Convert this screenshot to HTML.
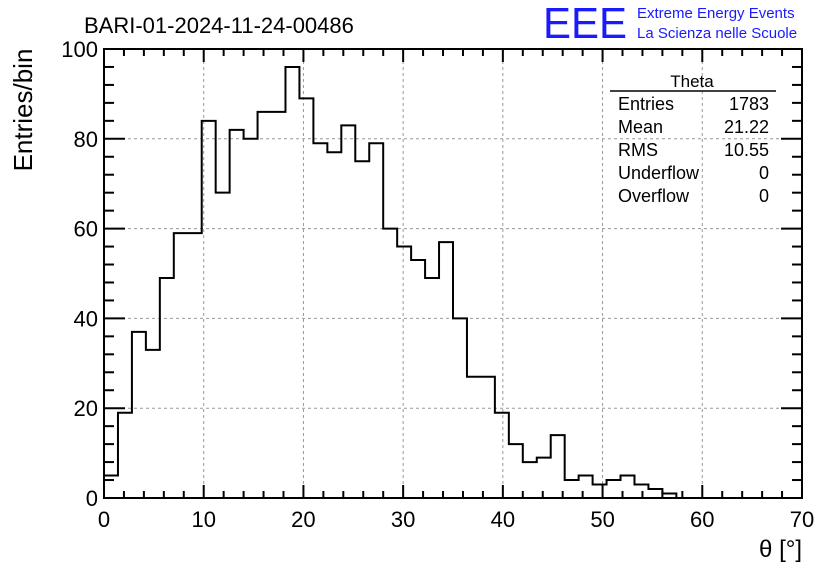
<!DOCTYPE html>
<html><head><meta charset="utf-8"><style>
html,body{margin:0;padding:0;background:#fff;}
svg{display:block;font-family:"Liberation Sans",sans-serif;}
</style></head><body>
<svg id="chart" width="836" height="572" viewBox="0 0 836 572">
<text x="84" y="33" font-size="22">BARI-01-2024-11-24-00486</text>
<text x="543" y="38" font-size="44" fill="#1a1aff" textLength="84" lengthAdjust="spacingAndGlyphs">EEE</text>
<text x="637" y="18" font-size="15" fill="#1a1aff">Extreme Energy Events</text>
<text x="637" y="38" font-size="15" fill="#1a1aff">La Scienza nelle Scuole</text>
<g id="grid"></g>
<path id="hist" fill="none" stroke="#000" stroke-width="2"></path>
<rect x="104" y="49" width="698" height="449" fill="none" stroke="#000" stroke-width="2"/>
<g id="ticks"></g>
<text x="32" y="110" font-size="26" transform="rotate(-90 32 110)" text-anchor="middle" dx="0"><tspan x="32" dy="0" transform="">Entries/bin</tspan></text>
<text x="802" y="557" font-size="24" text-anchor="end">θ [°]</text>
<g font-size="18">
<text x="692" y="87" text-anchor="middle" font-size="17">Theta</text>
<line x1="610" y1="91" x2="776" y2="91" stroke="#000" stroke-width="1.5"/>
<text x="618" y="110">Entries</text><text x="769" y="110" text-anchor="end">1783</text>
<text x="618" y="133">Mean</text><text x="769" y="133" text-anchor="end">21.22</text>
<text x="618" y="156">RMS</text><text x="769" y="156" text-anchor="end">10.55</text>
<text x="618" y="179">Underflow</text><text x="769" y="179" text-anchor="end">0</text>
<text x="618" y="202">Overflow</text><text x="769" y="202" text-anchor="end">0</text>
</g>
</svg>
<script>
const counts = [5,19,37,33,49,59,59,84,68,82,80,86,86,96,89,79,77,83,75,79,60,56,53,49,57,40,27,27,19,12,8,9,14,4,5,3,4,5,3,2,1,0,0,0,0,0,0,0,0,0];
const xTicks = [0,10,20,30,40,50,60,70];
const yTicks = [0,20,40,60,80,100];
const binWidth = 1.4;
const X0=104,X1=802,Y0=498,Y1=49;
const sx=v=>X0+(v-0)/70*(X1-X0);
const sy=v=>Y0-(v-0)/100*(Y0-Y1);
const NS="http://www.w3.org/2000/svg";
const svg=document.getElementById('chart');
function mk(tag,attrs,parent){const e=document.createElementNS(NS,tag);for(const k in attrs)e.setAttribute(k,attrs[k]);parent.appendChild(e);return e;}
const grid=document.getElementById('grid'), ticks=document.getElementById('ticks');
xTicks.forEach((t,i)=>{
  const x=sx(t);
  if(t>0&&t<70){const g=mk('line',{x1:x,x2:x,y1:Y1,y2:Y0,stroke:'#999','stroke-dasharray':'3,3','stroke-width':1},grid);
  
  }
  mk('line',{x1:x,x2:x,y1:Y0,y2:Y0-13,stroke:'#000','stroke-width':2},ticks);
  mk('line',{x1:x,x2:x,y1:Y1,y2:Y1+13,stroke:'#000','stroke-width':2},ticks);
  if(i<xTicks.length-1){for(let m=1;m<5;m++){const xm=sx(t+m*(xTicks[1]-xTicks[0])/5);
    mk('line',{x1:xm,x2:xm,y1:Y0,y2:Y0-7,stroke:'#000','stroke-width':2},ticks);
    mk('line',{x1:xm,x2:xm,y1:Y1,y2:Y1+7,stroke:'#000','stroke-width':2},ticks);}}
  const l=mk('text',{x:x,y:Y0+29,'font-size':22,'text-anchor':'middle'},svg);l.textContent=t;
  
  
});
yTicks.forEach((t,i)=>{
  const y=sy(t);
  if(t>0&&t<100){const g=mk('line',{x1:X0,x2:X1,y1:y,y2:y,stroke:'#999','stroke-dasharray':'3,3','stroke-width':1},grid);
  
  }
  mk('line',{x1:X0,x2:X0+21,y1:y,y2:y,stroke:'#000','stroke-width':2},ticks);
  mk('line',{x1:X1,x2:X1-21,y1:y,y2:y,stroke:'#000','stroke-width':2},ticks);
  if(i<yTicks.length-1){for(let m=1;m<5;m++){const ym=sy(t+m*(yTicks[1]-yTicks[0])/5);
    mk('line',{x1:X0,x2:X0+10,y1:ym,y2:ym,stroke:'#000','stroke-width':2},ticks);
    mk('line',{x1:X1,x2:X1-10,y1:ym,y2:ym,stroke:'#000','stroke-width':2},ticks);}}
  const l=mk('text',{x:X0-6,y:y+8,'font-size':22,'text-anchor':'end'},svg);l.textContent=t;
  
  
});
let last=counts.length-1;while(last>0&&counts[last]===0)last--;
let d='M'+sx(0)+' '+sy(0);
for(let i=0;i<=last+1&&i<counts.length;i++){
  const a=sx(i*binWidth),b=sx((i+1)*binWidth),v=counts[i];
  d+=' L'+a+' '+sy(v)+' L'+b+' '+sy(v);
}
document.getElementById('hist').setAttribute('d',d);
</script>
</body></html>
